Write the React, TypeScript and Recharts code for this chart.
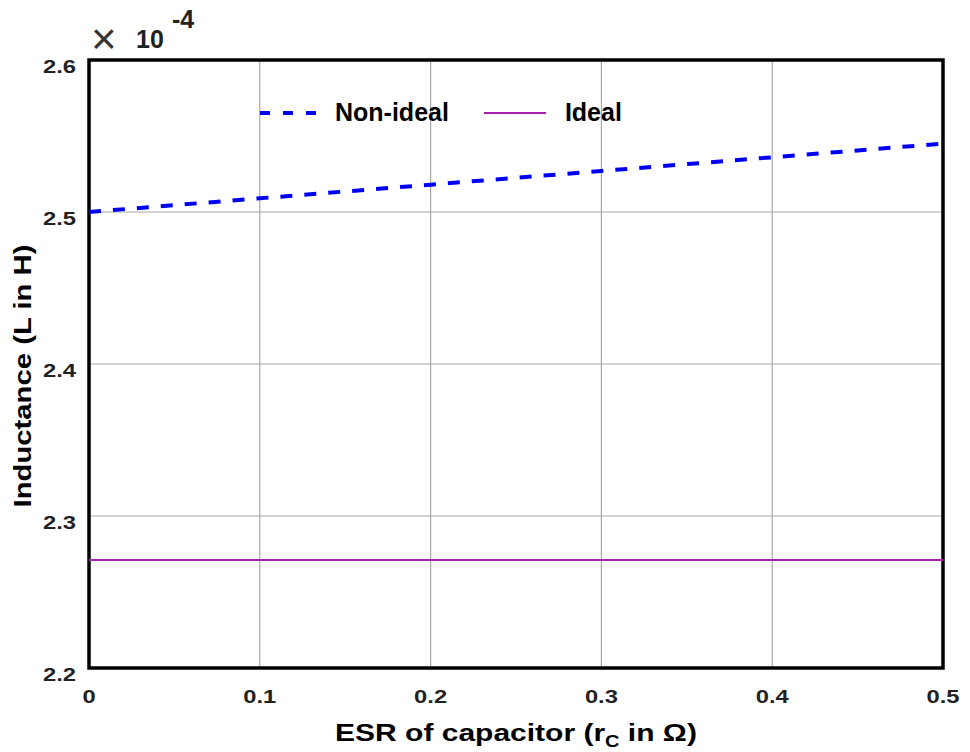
import React from 'react';
import { LineChart, Line, XAxis, YAxis, CartesianGrid, ReferenceArea } from 'recharts';

// ESR of capacitor (ohm)
const esr = [0, 0.1, 0.2, 0.3, 0.4, 0.5];
// inductance values, in units of 1e-4 H
const nonIdeal = [2.5, 2.509, 2.518, 2.527, 2.536, 2.545];
const ideal = [2.271, 2.271, 2.271, 2.271, 2.271, 2.271];
const xTicks = [0, 0.1, 0.2, 0.3, 0.4, 0.5];
const yTicks = [2.2, 2.3, 2.4, 2.5, 2.6];

const data = esr.map((x, i) => ({ x, nonIdeal: nonIdeal[i], ideal: ideal[i] }));

const FONT = '"Liberation Sans", Arial, sans-serif';
const BLUE = '#0000f0';
const PURPLE = '#a61fae';

// the original figure's font is wider than Liberation Sans, so text gets stretched a bit
const Stretch = ({ x, y, anchor = 'middle', size, sx = 1.25, rotate = false, fill = '#222', children }: any) => (
  <text
    transform={`translate(${x},${y})${rotate ? ' rotate(-90)' : ''} scale(${sx},1)`}
    x={0}
    y={0}
    textAnchor={anchor}
    fontFamily={FONT}
    fontWeight="bold"
    fontSize={size}
    fill={fill}
  >
    {children}
  </text>
);

const XTick = ({ x, y, payload }: any) => (
  <Stretch x={x} y={y + 35} size={19}>
    {payload.value === 0 ? '0' : payload.value.toFixed(1)}
  </Stretch>
);

const YTick = ({ x, y, payload }: any) => (
  <Stretch x={x - 13} y={y + 12.5} anchor="end" size={19}>
    {payload.value.toFixed(1)}
  </Stretch>
);

const XLabel = (props: any) => {
  const { x, y, width } = props.viewBox;
  return (
    <Stretch x={x + width / 2} y={y + 73} size={24} fill="#000">
      ESR of capacitor (r
      <tspan dy={6} fontSize={16}>C</tspan>
      <tspan dy={-6}> in Ω)</tspan>
    </Stretch>
  );
};

const YLabel = () => (
  <Stretch x={31} y={376} rotate sx={1.22} size={24} fill="#000">
    Inductance (L in H)
  </Stretch>
);

const LegendBox = () => (
  <div
    style={{
      position: 'absolute',
      left: 258,
      top: 98,
      display: 'flex',
      alignItems: 'center',
      fontFamily: FONT,
      fontWeight: 'bold',
      fontSize: 25,
      color: '#000',
      whiteSpace: 'nowrap',
    }}
  >
    <svg width={60} height={10}>
      <line x1={2} y1={5} x2={60} y2={5} stroke={BLUE} strokeWidth={4} strokeDasharray="10 13" />
    </svg>
    <span style={{ marginLeft: 17 }}>Non-ideal</span>
    <svg width={62} height={10} style={{ marginLeft: 35 }}>
      <line x1={0} y1={5} x2={62} y2={5} stroke={PURPLE} strokeWidth={2} />
    </svg>
    <span style={{ marginLeft: 19 }}>Ideal</span>
  </div>
);

export default function App() {
  return (
    <div style={{ position: 'absolute', left: 0, top: 0, width: 970, height: 752, background: '#fff' }}>
      <LineChart width={970} height={752} data={data} margin={{ top: 60, right: 27, bottom: 54, left: 29 }}>
        <CartesianGrid stroke="#a8a8a8" strokeWidth={1.2} />
        <XAxis
          dataKey="x"
          type="number"
          domain={[0, 0.5]}
          ticks={xTicks}
          tickLine={false}
          axisLine={false}
          tickSize={0}
          tickMargin={0}
          height={30}
          tick={<XTick />}
          label={<XLabel />}
        />
        <YAxis
          type="number"
          width={60}
          domain={[2.2, 2.6]}
          ticks={yTicks}
          tickLine={false}
          axisLine={false}
          tickSize={0}
          tickMargin={0}
          tick={<YTick />}
          label={<YLabel />}
        />
        <ReferenceArea x1={0} x2={0.5} y1={2.2} y2={2.6} fill="none" stroke="#000" strokeWidth={3.5} ifOverflow="visible" />
        <Line type="linear" dataKey="ideal" name="Ideal" stroke={PURPLE} strokeWidth={2} dot={false} isAnimationActive={false} />
        <Line type="linear" dataKey="nonIdeal" name="Non-ideal" stroke={BLUE} strokeWidth={4} strokeDasharray="12 12" dot={false} isAnimationActive={false} />
      </LineChart>
      <LegendBox />
      <div style={{ position: 'absolute', left: 91, top: 14, fontFamily: FONT, fontSize: 44, color: '#333', lineHeight: 'normal' }}>×</div>
      <div style={{ position: 'absolute', left: 136, top: 25, fontFamily: FONT, fontWeight: 'bold', fontSize: 25, color: '#222' }}>10</div>
      <div style={{ position: 'absolute', left: 172, top: 5, fontFamily: FONT, fontWeight: 'bold', fontSize: 25, color: '#222' }}>-4</div>
    </div>
  );
}
